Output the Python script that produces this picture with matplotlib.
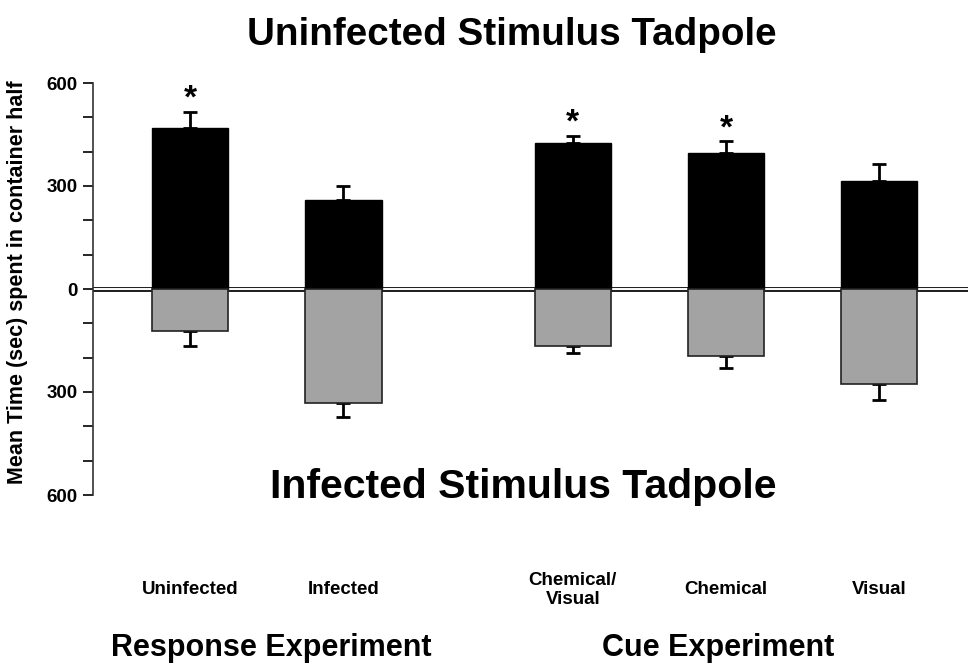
import numpy as np
import matplotlib.pyplot as plt
from matplotlib.ticker import FixedLocator, MultipleLocator

# data (seconds)
categories = ["Uninfected", "Infected", "Chemical/\nVisual", "Chemical", "Visual"]
uninfected_side = [470, 260, 424, 397, 316]
uninfected_err = [45, 40, 22, 33, 49]
infected_side = [123, 333, 167, 195, 277]
infected_err = [44, 41, 19, 35, 47]
significant = [True, False, True, True, False]
groups = ["Response Experiment", "Cue Experiment"]

plt.rcParams['font.family'] = ['Liberation Sans', 'DejaVu Sans']
plt.rcParams['font.weight'] = 'bold'

fig = plt.figure(figsize=(9.68, 6.65), dpi=100)
ax = fig.add_axes([93 / 968, 1 - 495 / 665, 1 - 93 / 968, (495 - 83) / 665])

x = np.array([0, 1, 2.5, 3.5, 4.5])
up = np.array(uninfected_side)
down = -np.array(infected_side)

# double zero line behind the bars
ax.axhline(0, color='#222222', lw=3.6, zorder=1)
ax.axhline(0, color='white', lw=1.4, zorder=1.5)

ax.bar(x, up, width=0.5, color='black', edgecolor='black', lw=1, zorder=3)
ax.bar(x, down, width=0.5, color='#a3a3a3', edgecolor='#222222', lw=1.2, zorder=3)

zeros = np.zeros(len(x))
ax.errorbar(x, up, yerr=[zeros, uninfected_err], fmt='none', ecolor='black',
            elinewidth=2, capsize=5, capthick=2, zorder=2)
ax.errorbar(x, down, yerr=[infected_err, zeros], fmt='none', ecolor='black',
            elinewidth=2, capsize=5, capthick=2, zorder=2)

for xi, u, e, s in zip(x, up, uninfected_err, significant):
    if s:
        ax.annotate('*', (xi, u + e), xytext=(0, -2), textcoords='offset points',
                    ha='center', va='bottom', fontsize=24, fontweight='bold')

ax.set_xlim(-0.634, 5.08)
ax.set_ylim(-600, 600)
ax.yaxis.set_major_locator(FixedLocator([-600, -300, 0, 300, 600]))
ax.yaxis.set_minor_locator(MultipleLocator(100))
ax.set_yticklabels(['600', '300', '0', '300', '600'])
ax.tick_params(axis='y', which='both', direction='out', length=7, width=1.2,
               labelsize=13.5, pad=4)
ax.set_xticks([])
for sp in ['top', 'right', 'bottom']:
    ax.spines[sp].set_visible(False)
ax.spines['left'].set_linewidth(1.2)
ax.spines['left'].set_color('#333333')

for xi, lab in zip(x, categories):
    ax.text(xi, -0.23, lab, transform=ax.get_xaxis_transform(), ha='center',
            va='center', fontsize=13.5, fontweight='bold', linespacing=1.15)

fig.text(512 / 968, 1 - 35 / 665, 'Uninfected Stimulus Tadpole', ha='center',
         va='center', fontsize=27.8, fontweight='bold')
fig.text(523 / 968, 1 - 487 / 665, 'Infected Stimulus Tadpole', ha='center',
         va='center', fontsize=29.5, fontweight='bold')
fig.text(18 / 968, 1 - 282 / 665, 'Mean Time (sec) spent in container half',
         rotation=90, ha='center', va='center', fontsize=15.5, fontweight='bold')
fig.text(271 / 968, 1 - 648 / 665, groups[0], ha='center', va='center',
         fontsize=22, fontweight='bold')
fig.text(718 / 968, 1 - 648 / 665, groups[1], ha='center', va='center',
         fontsize=22, fontweight='bold')

fig.savefig('out.png', dpi=100)
